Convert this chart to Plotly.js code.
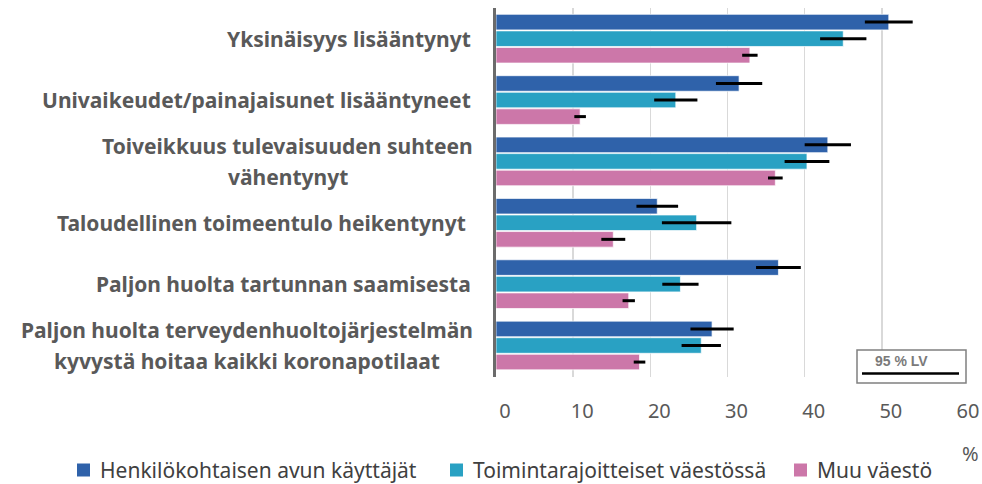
<!DOCTYPE html>
<html>
<head>
<meta charset="utf-8">
<script src="https://cdn.plot.ly/plotly-3.0.1.min.js"></script>
<style>
  html, body { margin: 0; padding: 0; background: #fff; }
  #chart { width: 982px; height: 484px; }
</style>
</head>
<body>
<div id="chart"></div>
<script>
const categories = [
  "Yksinäisyys lisääntynyt",
  "Univaikeudet/painajaisunet lisääntyneet",
  "Toiveikkuus tulevaisuuden suhteen|vähentynyt",
  "Taloudellinen toimeentulo heikentynyt ",
  "Paljon huolta tartunnan saamisesta",
  "Paljon huolta terveydenhuoltojärjestelmän|kyvystä hoitaa kaikki koronapotilaat"
];
const seriesNames = ["Henkilökohtaisen avun käyttäjät", "Toimintarajoitteiset väestössä", "Muu väestö"];
const henk    = [50.9, 31.5, 43.0, 20.9, 36.6, 28.0];
const henkErr = [3.1, 3.0, 3.0, 2.7, 2.9, 2.8];
const toim    = [45.0, 23.3, 40.3, 26.0, 23.9, 26.6];
const toimErr = [3.0, 2.8, 2.9, 4.5, 2.35, 2.55];
const muu     = [32.9, 10.9, 36.2, 15.2, 17.2, 18.6];
const muuErr  = [1.0, 0.75, 0.95, 1.55, 0.8, 0.75];
const xTicks  = [0, 10, 20, 30, 40, 50, 60];
const ciLabel = "95 % LV";
const unitLabel = "%";

const colors = ["#2F62AA", "#29A1C3", "#CC77A9"];
const values = [henk, toim, muu];
const errs = [henkErr, toimErr, muuErr];

const traces = values.map((v, i) => ({
  type: "bar",
  orientation: "h",
  name: seriesNames[i],
  y: categories,
  x: v,
  marker: { color: colors[i], line: { color: "rgba(255,255,255,0.7)", width: 1 } },
  error_x: { type: "data", array: errs[i], visible: true, color: "#000", thickness: 3, width: 0 },
  hoverinfo: "x+name",
  showlegend: false
}));

const L = 496, R = 959, T = 8, B = 377;
const W = 982, H = 484;
const pw = R - L, ph = B - T;
const px2x = p => (p - L) / pw;
const py2y = p => (B - p) / ph;

const labelSize = 21;
const canvas = document.createElement("canvas");
const ctx = canvas.getContext("2d");
ctx.font = "bold " + labelSize + "px 'Noto Sans'";

const labelRight = 473;
const labelFontObj = { family: "Noto Sans", size: labelSize, color: "#595959", weight: "bold" };
const annotations = [];
categories.forEach(c => {
  const lines = c.split("|");
  if (lines.length === 1) {
    annotations.push({
      xref: "paper", yref: "y", x: px2x(labelRight), y: c, xanchor: "right", yanchor: "middle",
      text: lines[0], showarrow: false, font: labelFontObj
    });
  } else {
    const w = ctx.measureText(lines[0]).width;
    const cx = labelRight - w / 2;
    lines.forEach((ln, k) => {
      annotations.push({
        xref: "paper", yref: "y", x: px2x(cx), y: c, xanchor: "center", yanchor: "middle",
        yshift: k === 0 ? 15.5 : -15.5,
        text: ln, showarrow: false, font: labelFontObj
      });
    });
  }
});
annotations.push({
  xref: "paper", yref: "paper", x: px2x(970), y: py2y(453), xanchor: "center", yanchor: "middle",
  text: unitLabel, showarrow: false, font: { family: "Noto Sans", size: 20, color: "#595959" }
});
annotations.push({
  xref: "paper", yref: "paper", x: px2x(901), y: py2y(361), xanchor: "center", yanchor: "middle",
  text: ciLabel, showarrow: false, font: { family: "Liberation Sans", size: 14, color: "#7a7a7a", weight: "bold" }
});

const shapes = [
  { type: "rect", xref: "paper", yref: "paper", x0: px2x(857), x1: px2x(966), y0: py2y(350), y1: py2y(383),
    line: { color: "#808080", width: 1.5 }, fillcolor: "#fff", layer: "above" },
  { type: "line", xref: "paper", yref: "paper", x0: px2x(862), x1: px2x(959), y0: py2y(373.5), y1: py2y(373.5),
    line: { color: "#000", width: 2.5 }, layer: "above" }
];

// manual legend
const legSquareX = [77, 450, 794];
const legY = 470;
seriesNames.forEach((n, i) => {
  shapes.push({
    type: "rect", xref: "paper", yref: "paper",
    x0: px2x(legSquareX[i]), x1: px2x(legSquareX[i] + 13),
    y0: py2y(legY - 6.5), y1: py2y(legY + 6.5),
    line: { width: 0 }, fillcolor: colors[i]
  });
  annotations.push({
    xref: "paper", yref: "paper", x: px2x(legSquareX[i] + 21), y: py2y(legY), xanchor: "left", yanchor: "middle",
    text: n, showarrow: false, font: { family: "Noto Sans", size: 21, color: "#404040" }
  });
});

const layout = {
  width: W, height: H,
  margin: { l: L, r: W - R, t: T, b: H - B, pad: 0 },
  paper_bgcolor: "#fff", plot_bgcolor: "#fff",
  barmode: "group", bargap: 0.19, bargroupgap: 0.06,
  showlegend: false,
  xaxis: {
    range: [0, 60], tickvals: xTicks, ticktext: xTicks.map(String),
    showgrid: true, gridcolor: "#d9d9d9", gridwidth: 1.5, zeroline: false, showline: false,
    ticks: "", ticklabelstandoff: 20, ticklabelshift: 9,
    tickfont: { family: "Noto Sans", size: 20, color: "#595959" }, fixedrange: true
  },
  yaxis: {
    type: "category", autorange: "reversed", showticklabels: false, ticks: "",
    showline: true, linecolor: "#6b6b6b", linewidth: 3, showgrid: false, zeroline: false, fixedrange: true
  },
  annotations, shapes
};

Plotly.newPlot("chart", traces, layout, { displayModeBar: false, staticPlot: true });
</script>
</body>
</html>
